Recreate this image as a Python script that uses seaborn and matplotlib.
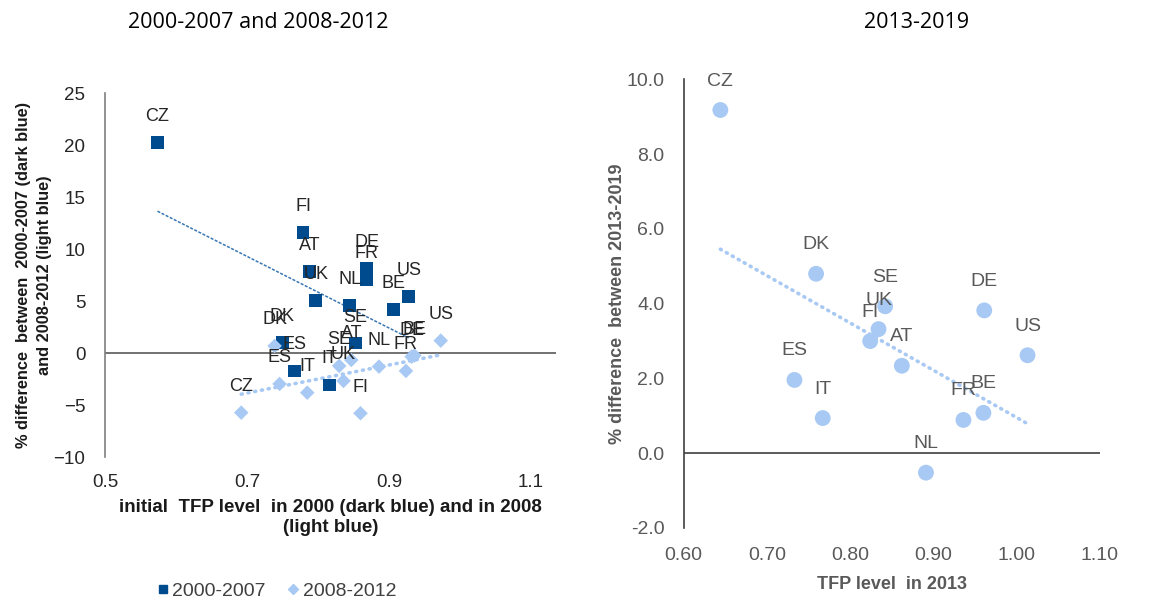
import numpy as np
import pandas as pd
import matplotlib
matplotlib.use("Agg")
import matplotlib.pyplot as plt
from matplotlib.lines import Line2D
import seaborn as sns

# Donnees
pays_0007 = ["CZ", "FI", "AT", "UK", "NL", "DE", "FR", "US", "BE", "SE", "DK", "ES", "IT"]
tfp_2000 = [0.574, 0.779, 0.788, 0.797, 0.845, 0.869, 0.869, 0.928, 0.906, 0.853, 0.750, 0.767, 0.816]
diff_0007 = [20.3, 11.6, 7.9, 5.05, 4.57, 8.2, 7.07, 5.46, 4.25, 1.0, 1.04, -1.68, -3.03]

pays_0812 = ["CZ", "FI", "US", "DE", "BE", "FR", "NL", "AT", "SE", "UK", "IT", "ES", "DK"]
tfp_2008 = [0.692, 0.860, 0.973, 0.932, 0.936, 0.924, 0.886, 0.847, 0.830, 0.836, 0.785, 0.746, 0.739]
diff_0812 = [-5.69, -5.75, 1.23, -0.31, -0.2, -1.68, -1.27, -0.63, -1.2, -2.64, -3.77, -2.93, 0.72]

pays_1319 = ["CZ", "DK", "SE", "UK", "FI", "AT", "ES", "IT", "NL", "FR", "BE", "DE", "US"]
tfp_2013 = [0.644, 0.759, 0.842, 0.834, 0.824, 0.862, 0.733, 0.767, 0.891, 0.936, 0.960, 0.961, 1.013]
diff_1319 = [9.18, 4.8, 3.93, 3.32, 3.0, 2.34, 1.96, 0.94, -0.52, 0.89, 1.08, 3.82, 2.62]

sns.set_theme(style="white")
plt.rcParams["font.family"] = ["Liberation Sans", "DejaVu Sans"]

dark = "#004B8D"
light = "#A8C9F4"

df1 = pd.DataFrame({"pays": pays_0007, "x": tfp_2000, "y": diff_0007})
df2 = pd.DataFrame({"pays": pays_0812, "x": tfp_2008, "y": diff_0812})
df3 = pd.DataFrame({"pays": pays_1319, "x": tfp_2013, "y": diff_1319})

fig = plt.figure(figsize=(11.53, 6.03), dpi=100)
ax1 = fig.add_axes([0.091, 0.2413, 0.391, 0.604])
ax2 = fig.add_axes([0.593, 0.1244, 0.361, 0.744])

# --- Graphique de gauche ---
ax1.axhline(0, color="#595959", lw=1.2, zorder=1)
sns.regplot(data=df1, x="x", y="y", scatter=False, ci=None, ax=ax1,
            line_kws={"color": "#3A78B5", "lw": 1.1, "ls": (0, (2, 1))})
sns.regplot(data=df2, x="x", y="y", scatter=False, ci=None, ax=ax1,
            line_kws={"color": light, "lw": 2.6, "ls": (0, (0.3, 1.6)),
                      "dash_capstyle": "round"})
sns.scatterplot(data=df1, x="x", y="y", marker="s", s=85, color=dark,
                edgecolor="none", ax=ax1, zorder=3)
sns.scatterplot(data=df2, x="x", y="y", marker="D", s=55, color=light,
                edgecolor="none", ax=ax1, zorder=3)
for d in (df1, df2):
    for _, r in d.iterrows():
        ax1.annotate(r["pays"], (r["x"], r["y"]), xytext=(0, 26),
                     textcoords="offset pixels", ha="center", va="center",
                     fontsize=13, color="#262626", zorder=4)

ax1.set_xlim(0.5, 1.135)
ax1.set_ylim(-10, 25)
ax1.set_xticks([0.5, 0.7, 0.9, 1.1])
ax1.set_xticklabels(["0.5", "0.7", "0.9", "1.1"])
ax1.set_yticks(range(-10, 30, 5))
ax1.tick_params(axis="both", labelsize=13.5, colors="#262626", length=0)
ax1.tick_params(axis="x", pad=12)
ax1.tick_params(axis="y", pad=14)
for sp in ["top", "right", "bottom"]:
    ax1.spines[sp].set_visible(False)
ax1.spines["left"].set_color("#7F7F7F")
ax1.spines["left"].set_linewidth(1.2)
ax1.set_xlabel("initial  TFP level  in 2000 (dark blue) and in 2008\n(light blue)",
               fontsize=13.5, fontweight="bold", color="#1A1A1A", labelpad=6)
ax1.set_ylabel("% difference  between  2000-2007 (dark blue)\nand 2008-2012 (light blue)",
               fontsize=11.8, fontweight="bold", color="#1A1A1A", labelpad=1,
               linespacing=1.5)

fig.text(0.224, 0.9635, "2000-2007 and 2008-2012", ha="center", va="center",
         fontsize=15.5, family="Open Sans", color="black")

handles = [Line2D([], [], marker="s", color=dark, ls="none", markersize=6),
           Line2D([], [], marker="D", color=light, ls="none", markersize=5)]
fig.legend(handles, ["2000-2007", "2008-2012"], loc="center",
           bbox_to_anchor=(0.234, 0.02), ncol=2, frameon=False, fontsize=14,
           handletextpad=-0.5, columnspacing=0.4, labelcolor="#404040")

# --- Graphique de droite ---
ax2.axhline(0, color="#404040", lw=1.2, zorder=1)
sns.regplot(data=df3, x="x", y="y", scatter=False, ci=None, ax=ax2,
            line_kws={"color": light, "lw": 2.6, "ls": (0, (0.3, 1.6)),
                      "dash_capstyle": "round"})
sns.scatterplot(data=df3, x="x", y="y", marker="o", s=130, color=light,
                edgecolor="none", ax=ax2, zorder=3)
for _, r in df3.iterrows():
    ax2.annotate(r["pays"], (r["x"], r["y"]), xytext=(0, 29),
                 textcoords="offset pixels", ha="center", va="center",
                 fontsize=14, color="#595959", zorder=4)

ax2.set_xlim(0.6, 1.1)
ax2.set_ylim(-2, 10)
ax2.set_xticks(np.arange(0.6, 1.11, 0.1))
ax2.set_xticklabels(["0.60", "0.70", "0.80", "0.90", "1.00", "1.10"])
ax2.set_yticks(np.arange(-2, 10.1, 2))
ax2.set_yticklabels(["-2.0", "0.0", "2.0", "4.0", "6.0", "8.0", "10.0"])
ax2.tick_params(axis="both", labelsize=14, colors="#595959", length=0)
ax2.tick_params(axis="x", pad=14)
ax2.tick_params(axis="y", pad=14)
for sp in ["top", "right", "bottom"]:
    ax2.spines[sp].set_visible(False)
ax2.spines["left"].set_color("#404040")
ax2.spines["left"].set_linewidth(1.2)
ax2.set_xlabel("TFP level  in 2013", fontsize=13, fontweight="bold",
               color="#595959", labelpad=8)
ax2.set_ylabel("% difference  between 2013-2019", fontsize=13, fontweight="bold",
               color="#595959", labelpad=0)

fig.text(0.795, 0.9635, "2013-2019", ha="center", va="center",
         fontsize=15.5, family="Open Sans", color="black")

fig.savefig("out.png", dpi=100)
